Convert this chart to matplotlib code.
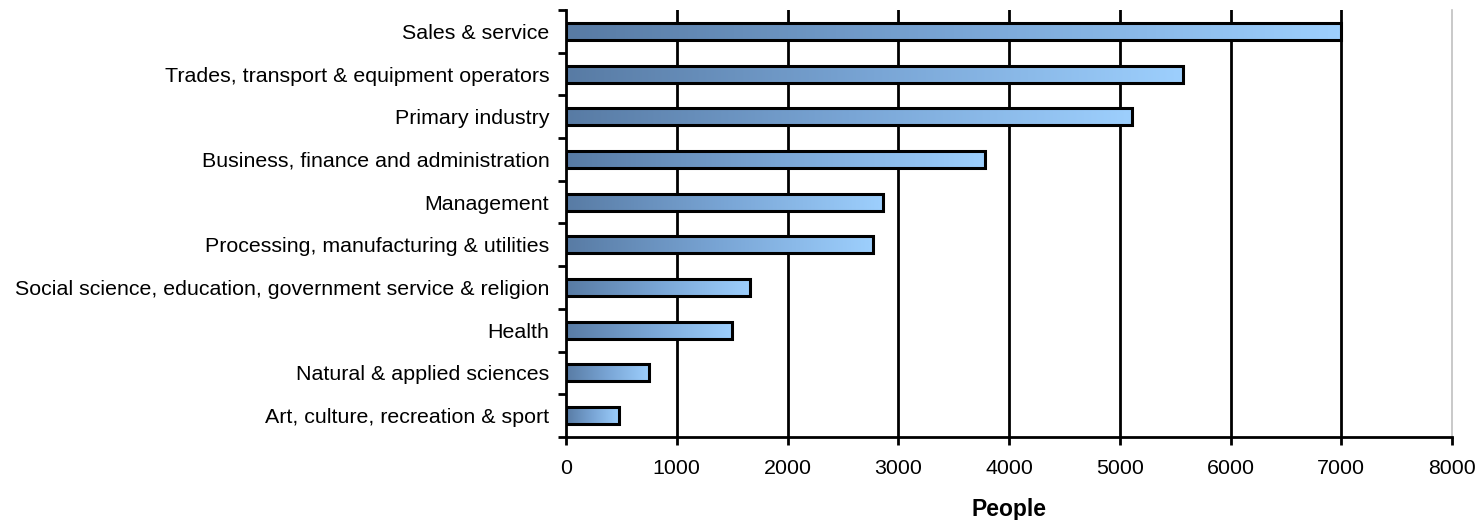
import matplotlib
matplotlib.use("Agg")
import matplotlib.pyplot as plt
import numpy as np
from matplotlib.colors import LinearSegmentedColormap
from matplotlib.patches import Rectangle

categories = [
    "Sales & service",
    "Trades, transport & equipment operators",
    "Primary industry",
    "Business, finance and administration",
    "Management",
    "Processing, manufacturing & utilities",
    "Social science, education, government service & religion",
    "Health",
    "Natural & applied sciences",
    "Art, culture, recreation & sport",
]
values = [7000, 5570, 5110, 3780, 2860, 2770, 1665, 1495, 750, 480]
x_ticks = [0, 1000, 2000, 3000, 4000, 5000, 6000, 7000, 8000]

plt.rcParams['font.family'] = ['Liberation Sans', 'DejaVu Sans']

fig = plt.figure(figsize=(14.8, 5.2), dpi=100)
ax = fig.add_axes([566/1480, 1 - 437/520, (1452-566)/1480, (437-10)/520])

cmap = LinearSegmentedColormap.from_list("g", ["#587ba4", "#79a5d5", "#9dcffd"])
grad = np.linspace(0, 1, 256).reshape(1, -1)

n = len(categories)
ypos = np.arange(n)[::-1]
h = 0.4
ax.set_xlim(0, 8000)
ax.set_ylim(-0.5, n - 0.5)

for x in x_ticks[1:-1]:
    ax.axvline(x, color="black", lw=2, zorder=1)

for y, v in zip(ypos, values):
    ax.imshow(grad, extent=[0, v, y - h/2, y + h/2], cmap=cmap, aspect="auto",
              interpolation="bilinear", zorder=2)
    ax.add_patch(Rectangle((0, y - h/2), v, h, fill=False, edgecolor="black",
                           lw=2.2, zorder=3))

ax.set_xlim(0, 8000)
ax.set_ylim(-0.5, n - 0.5)
ax.set_aspect("auto")

fs = 15.4
ax.set_yticks(ypos)
ax.set_yticklabels(categories, fontsize=fs)
ax.set_yticks(np.arange(-0.5, n, 1), minor=True)
ax.tick_params(axis="y", which="major", length=0, pad=12)
ax.tick_params(axis="y", which="minor", length=6, width=2, direction="out")
ax.set_xticks(x_ticks)
ax.set_xticklabels([str(t) for t in x_ticks], fontsize=fs)
ax.tick_params(axis="x", length=6, width=2, direction="out", pad=10)

ax.spines["top"].set_visible(False)
ax.spines["right"].set_color("#c0c0c0")
ax.spines["right"].set_linewidth(1.2)
ax.spines["left"].set_linewidth(2)
ax.spines["bottom"].set_linewidth(2)

ax.set_xlabel("People", fontsize=16.5, fontweight="bold", labelpad=14)

fig.savefig("out.png", dpi=100)
